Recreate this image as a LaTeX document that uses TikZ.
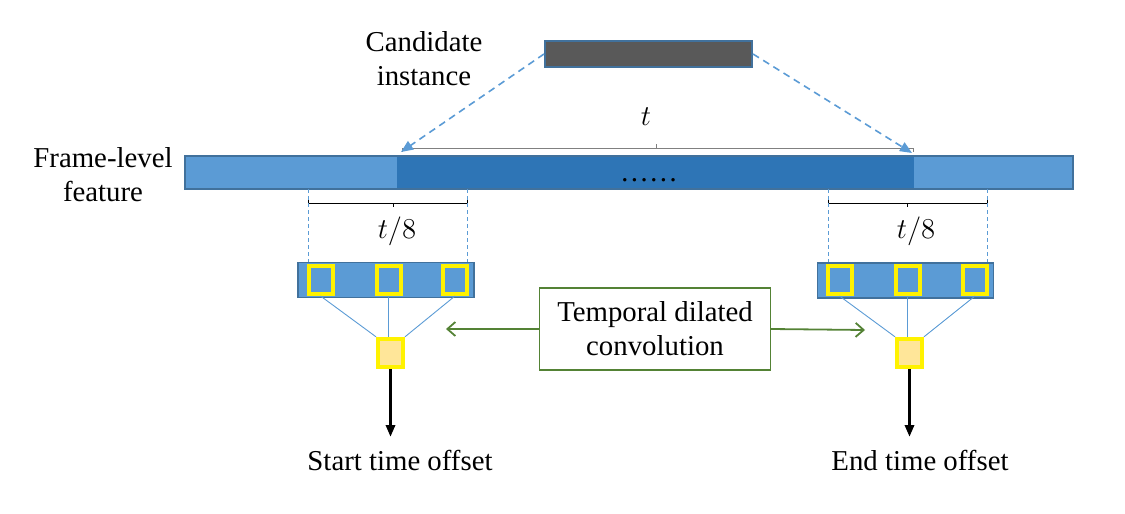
\documentclass[tikz,border=0pt]{standalone}
\usepackage{fontspec}
\setmainfont{Liberation Serif}
\usepackage{amsmath}
\usetikzlibrary{arrows.meta}
\usetikzlibrary{positioning}

\definecolor{barlight}{HTML}{5B9BD5}
\definecolor{bardark}{HTML}{2E75B6}
\definecolor{barline}{HTML}{41719C}
\definecolor{candgray}{HTML}{595959}
\definecolor{outfill}{HTML}{FFE699}
\definecolor{convgreen}{HTML}{548235}

\begin{document}
\begin{tikzpicture}[x=0.5pt, y=-0.5pt,
        txt/.style   = {font=\fontsize{14.4}{17}\selectfont, align=center},
        lbl/.style   = {font=\fontsize{15.5}{18}\selectfont},
        seg/.style   = {fill=#1, minimum height=16.5pt, inner sep=0pt, outer sep=0pt},
        kbar/.style  = {draw=barline, line width=0.8pt, fill=barlight, minimum width=88pt,
                        minimum height=17.5pt, inner sep=0pt},
        cell/.style  = {draw=yellow, line width=2pt, fill=barlight, minimum width=12pt,
                        minimum height=14pt, inner sep=0pt},
        outc/.style  = {draw=yellow, line width=2.2pt, fill=outfill, minimum width=12.3pt,
                        minimum height=14pt, inner sep=0pt},
        link/.style  = {draw=barlight, line width=0.45pt},
        guide/.style = {draw=barlight, line width=0.45pt, dash pattern=on 2pt off 1.5pt},
        proj/.style  = {draw=barlight, line width=0.8pt, dash pattern=on 3.5pt off 2.5pt,
                        -{Triangle[length=6pt, width=5pt]}},
        conv/.style  = {draw=convgreen, line width=0.9pt, -{Straight Barb[length=4pt, width=7pt]}},
        res/.style   = {line width=1.5pt, -{Triangle[length=6pt, width=4.5pt]}},
        dim/.style   = {line width=0.5pt}]

        \useasboundingbox (0,0) rectangle (1125,514);

        % candidate instance on top
        \node[draw=barline, line width=1pt, fill=candgray, minimum width=103.5pt,
              minimum height=13pt, inner sep=0pt] (cand) at (648.5, 54) {};
        \node[txt] (candtxt) at (424, 59) {Candidate\\instance};

        % frame-level feature bar
        \node[seg=barlight, minimum width=106pt] (lbar) at (291, 172.5) {};
        \node[seg=bardark, minimum width=258.5pt, right=0pt of lbar] (dbar) {};
        \node[seg=barlight, minimum width=79.5pt, right=0pt of dbar] (rbar) {};
        \draw[barline, line width=0.8pt] (lbar.north west) rectangle (rbar.south east);
        \node[txt, anchor=base] (dots) at (649, 181) {\ldots\ldots};
        \node[txt] (frametxt) at (103, 175) {Frame-level\\feature};

        % length t
        \coordinate (tl) at (402, 148);
        \coordinate (tm) at (656, 148);
        \coordinate (tr) at (913, 148);
        \draw[dim, gray] (tl) -- (tr);
        \draw[dim, gray] (tl) -- ++(0, 4);
        \draw[dim, gray] (tr) -- ++(0, 4);
        \draw[dim, gray] (tm) -- ++(0, -4);
        \node[lbl] (tlab) at (646, 117) {$t$};

        \draw[proj] (cand.west) -- (401, 152) coordinate (pl);
        \draw[proj] (cand.east) -- (912, 153) coordinate (pr);

        % left window t/8
        \coordinate (al) at (308, 203);
        \coordinate (am) at (393, 203);
        \coordinate (ar) at (467, 203);
        \draw[dim] (al) -- (ar);
        \draw[dim] (al) -- ++(0, -4);
        \draw[dim] (ar) -- ++(0, -4);
        \draw[dim] (am) -- ++(0, 4);
        \node[lbl] (alab) at (397, 231) {$t/8$};

        % right window t/8
        \coordinate (bl) at (828, 203);
        \coordinate (bm) at (907, 203);
        \coordinate (br) at (987, 203);
        \draw[dim] (bl) -- (br);
        \draw[dim] (bl) -- ++(0, -4);
        \draw[dim] (br) -- ++(0, -4);
        \draw[dim] (bm) -- ++(0, 4);
        \node[lbl] (blab) at (916, 231) {$t/8$};

        % dilated kernels
        \node[kbar] (kl) at (386, 280) {};
        \node[kbar] (kr) at (905.5, 280.5) {};

        \draw[guide] (al |- lbar.south) -- (al |- kl.north);
        \draw[guide] (ar |- lbar.south) -- (ar |- kl.north);
        \draw[guide] (bl |- rbar.south) -- (bl |- kr.north);
        \draw[guide] (br |- rbar.south) -- (br |- kr.north);

        \node[cell] (l1) at (320.5, 280) {};
        \node[cell] (l2) at (388.5, 280) {};
        \node[cell] (l3) at (455, 280) {};
        \node[cell] (r1) at (839.5, 280) {};
        \node[cell] (r2) at (907.5, 280) {};
        \node[cell] (r3) at (975, 280) {};

        \node[outc] (ol) at (390.5, 353) {};
        \node[outc] (or) at (909.5, 353) {};

        \draw[link] (l1.south) -- (ol.north west);
        \draw[link] (l2.south) -- (l2.south |- ol.north);
        \draw[link] (l3.south) -- (ol.north east);
        \draw[link] (r1.south) -- (or.north west);
        \draw[link] (r2.south) -- (r2.south |- or.north);
        \draw[link] (r3.south) -- (or.north east);

        % outputs
        \coordinate (sl) at (390.5, 437);
        \coordinate (sr) at (909.5, 437);
        \draw[res] (ol.south) -- (sl);
        \draw[res] (or.south) -- (sr);
        \node[txt, anchor=base] (starttxt) at (400, 470) {Start time offset};
        \node[txt, anchor=base] (endtxt) at (920, 470) {End time offset};

        % temporal dilated convolution
        \node[txt, draw=convgreen, line width=0.6pt, minimum width=115.5pt, minimum height=41pt,
              inner sep=0pt] (tdc) at (655, 329) {Temporal dilated\\convolution};
        \coordinate (gl) at (446, 329);
        \coordinate (gr) at (865, 330);
        \draw[conv] (tdc.west) -- (gl);
        \draw[conv] (tdc.east) -- (gr);
\end{tikzpicture}
\end{document}
